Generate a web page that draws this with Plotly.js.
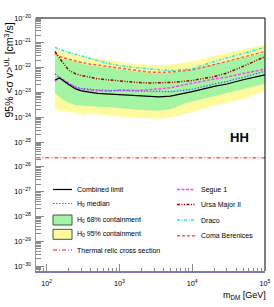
<!DOCTYPE html>
<html>
<head>
<meta charset="utf-8">
<script src="https://cdn.plot.ly/plotly-3.0.1.min.js"></script>
<style>html,body{margin:0;padding:0;background:#fff;}#chart{width:274px;height:307px;}</style>
</head>
<body>
<div id="chart"></div>
<script>
// ---- data ----
const masses = [130,150,200,250,300,400,500,750,1000,1750,2500,3500,5000,8000,10000,20000,30000,50000,100000];
const combinedLimit = [3.16e-23,3.80e-23,2.09e-23,1.38e-23,1.15e-23,9.77e-24,9.12e-24,8.51e-24,8.13e-24,7.08e-24,6.76e-24,6.61e-24,7.08e-24,9.33e-24,1.07e-23,1.74e-23,2.19e-23,3.24e-23,5.13e-23];
const h0Median = [5.62e-23,3.98e-23,2.24e-23,1.66e-23,1.45e-23,1.32e-23,1.26e-23,1.20e-23,1.17e-23,1.12e-23,1.07e-23,1.05e-23,1.07e-23,1.23e-23,1.35e-23,2.19e-23,2.75e-23,4.07e-23,7.08e-23];
const segue1 = [2.82e-23,3.98e-23,2.40e-23,1.58e-23,1.32e-23,1.20e-23,1.17e-23,1.12e-23,1.26e-23,1.20e-23,1.26e-23,1.38e-23,1.55e-23,2.09e-23,2.34e-23,3.47e-23,4.17e-23,5.75e-23,8.71e-23];
const ursaMajorII = [4.47e-22,2.40e-22,7.94e-23,5.62e-23,4.79e-23,3.98e-23,3.55e-23,3.16e-23,2.88e-23,2.51e-23,2.40e-23,2.40e-23,2.51e-23,2.82e-23,3.02e-23,4.37e-23,6.03e-23,1.12e-22,2.75e-22];
const draco = [6.61e-22,5.37e-22,4.17e-22,3.39e-22,2.88e-22,2.29e-22,1.91e-22,1.41e-22,1.20e-22,9.77e-23,8.91e-23,8.13e-23,7.59e-23,8.32e-23,9.12e-23,1.74e-22,2.40e-22,3.72e-22,6.61e-22];
const comaBerenices = [3.55e-22,2.82e-22,2.19e-22,1.82e-22,1.62e-22,1.38e-22,1.26e-22,1.12e-22,9.33e-23,7.41e-23,6.61e-23,6.46e-23,6.61e-23,7.59e-23,8.13e-23,1.32e-22,1.78e-22,2.63e-22,4.47e-22];
const band68Upper = [3.02e-22,2.51e-22,2.00e-22,1.66e-22,1.45e-22,1.23e-22,1.12e-22,9.33e-23,8.32e-23,6.61e-23,6.03e-23,5.89e-23,6.17e-23,7.59e-23,8.32e-23,1.41e-22,1.82e-22,2.63e-22,3.98e-22];
const band68Lower = [9.77e-24,6.31e-24,3.80e-24,3.02e-24,2.82e-24,2.69e-24,2.63e-24,2.45e-24,2.34e-24,2.00e-24,1.86e-24,1.82e-24,2.09e-24,3.55e-24,4.27e-24,7.24e-24,9.55e-24,1.38e-23,2.24e-23];
const band95Upper = [5.50e-22,4.79e-22,3.98e-22,3.31e-22,2.88e-22,2.51e-22,2.29e-22,1.91e-22,1.66e-22,1.38e-22,1.29e-22,1.26e-22,1.32e-22,1.62e-22,1.78e-22,3.02e-22,3.80e-22,5.37e-22,8.32e-22];
const band95LowerMasses = [130,150,200,250,300,330,360,400,500,750,1000,1750,2500,3500,5000,8000,10000,20000,30000,50000,100000];
const band95Lower = [2.00e-24,1.82e-24,1.66e-24,1.51e-24,1.38e-24,1.12e-24,1.41e-24,1.45e-24,1.32e-24,1.12e-24,1.05e-24,1.00e-24,9.12e-25,8.71e-25,1.00e-24,1.38e-24,1.58e-24,2.88e-24,3.80e-24,5.37e-24,1.15e-23];
const thermalMasses = [72, 100000];
const thermalRelic = [2.3e-26, 2.3e-26];
const xTickVals = [100, 1000, 10000, 100000];
const xTickText = ['10<sup>2</sup>', '10<sup>3</sup>', '10<sup>4</sup>', '10<sup>5</sup>'];

// ---- styles ----
const FONT = 'Liberation Sans, Arial, Helvetica, sans-serif';
const C = {
  comb: '#000000', med: '#5a5aff', seg: '#ff44ff', uma: '#a00000',
  dra: '#22e8f0', coma: '#ff5a5a', thermal: '#ff1010',
  g68: '#a3f5a3', y95: '#fdfb9e'
};
const DASH = {
  med: '1.5px,1.5px', seg: '3px,1.5px', uma: '3px,1.5px,1px,1.5px,1px,1.5px',
  dra: '3px,1.5px,1px,1.5px', coma: '3px,2px', thermal: '4px,2px,1px,2px'
};

function rev(a){ return a.slice().reverse(); }

const traces = [
  {x: masses.concat(rev(band95LowerMasses)), y: band95Upper.concat(rev(band95Lower)), type:'scatter', mode:'lines',
   fill:'toself', fillcolor:C.y95, line:{width:0, color:C.y95}, name:'H0 95% containment', showlegend:false, hoverinfo:'skip'},
  {x: masses.concat(rev(masses)), y: band68Upper.concat(rev(band68Lower)), type:'scatter', mode:'lines',
   fill:'toself', fillcolor:C.g68, line:{width:0, color:C.g68}, name:'H0 68% containment', showlegend:false, hoverinfo:'skip'},
  {x: thermalMasses, y: thermalRelic, mode:'lines', line:{color:C.thermal, width:1, dash:DASH.thermal}, name:'Thermal relic cross section', showlegend:false},
  {x: masses, y: draco, mode:'lines', line:{color:C.dra, width:1.5, dash:DASH.dra}, name:'Draco', showlegend:false},
  {x: masses, y: comaBerenices, mode:'lines', line:{color:C.coma, width:1.5, dash:DASH.coma}, name:'Coma Berenices', showlegend:false},
  {x: masses, y: ursaMajorII, mode:'lines', line:{color:C.uma, width:1.5, dash:DASH.uma}, name:'Ursa Major II', showlegend:false},
  {x: masses, y: segue1, mode:'lines', line:{color:C.seg, width:1.5, dash:DASH.seg}, name:'Segue 1', showlegend:false},
  {x: masses, y: h0Median, mode:'lines', line:{color:C.med, width:1.2, dash:DASH.med}, name:'H0 median', showlegend:false},
  {x: masses, y: combinedLimit, mode:'lines', line:{color:C.comb, width:1.2}, name:'Combined limit', showlegend:false}
];

// pixel -> paper helpers for the plot frame (l=36, t=18, w=229, h=253)
const L = 36, T = 18, W = 229, H = 253;
const px = x => (x - L) / W;
const py = y => (T + H - y) / H;

const shapes = [
  {type:'line', xref:'paper', yref:'paper', x0:0, x1:1, y0:1, y1:1, line:{color:'#000', width:1}},
  {type:'line', xref:'paper', yref:'paper', x0:1, x1:1, y0:0, y1:1, line:{color:'#000', width:1}}
];
const annotations = [];

// legend (drawn manually to match the ROOT layout)
const legendLeft = [
  {kind:'line', label:'Combined limit', color:C.comb, dash:'solid', w:1.2, y:189.5},
  {kind:'line', label:'H<sub>0</sub> median', color:C.med, dash:DASH.med, w:1.2, y:203.5},
  {kind:'box', label:'H<sub>0</sub> 68% containment', color:C.g68, y:220},
  {kind:'box', label:'H<sub>0</sub> 95% containment', color:C.y95, y:234.3},
  {kind:'line', label:'Thermal relic cross section', color:C.thermal, dash:DASH.thermal, w:1, y:250}
];
const legendRight = [
  {kind:'line', label:'Segue 1', color:C.seg, dash:DASH.seg, w:1.5, y:189.5},
  {kind:'line', label:'Ursa Major II', color:C.uma, dash:DASH.uma, w:1.5, y:204.5},
  {kind:'line', label:'Draco', color:C.dra, dash:DASH.dra, w:1.5, y:220},
  {kind:'line', label:'Coma Berenices', color:C.coma, dash:DASH.coma, w:1.5, y:235.7}
];
function addLegend(items, x0, x1, tx){
  items.forEach(it => {
    if(it.kind === 'line'){
      shapes.push({type:'line', xref:'paper', yref:'paper', x0:px(x0), x1:px(x1), y0:py(it.y), y1:py(it.y),
        line:{color:it.color, width:it.w, dash:it.dash}});
    } else {
      shapes.push({type:'rect', xref:'paper', yref:'paper', x0:px(x0), x1:px(x1), y0:py(it.y-5), y1:py(it.y+5),
        fillcolor:it.color, line:{color:'#3c5a3c', width:1}});
    }
    annotations.push({xref:'paper', yref:'paper', x:px(tx), y:py(it.y), xanchor:'left', yanchor:'middle',
      text:it.label, showarrow:false, font:{family:FONT, size:7, color:'#000'}});
  });
}
addLegend(legendLeft, 53, 72, 75);
addLegend(legendRight, 177, 195, 199);

// HH label
annotations.push({xref:'paper', yref:'paper', x:px(239), y:py(137), xanchor:'center', yanchor:'middle',
  text:'<b>HH</b>', showarrow:false, font:{family:FONT, size:13, color:'#000'}});
// y title
annotations.push({xref:'paper', yref:'paper', x:px(8), y:py(21), xanchor:'center', yanchor:'top', textangle:-90,
  text:'95% &lt;σ v&gt;<sup>UL</sup> [cm<sup>3</sup>/s]', showarrow:false, font:{family:FONT, size:10.5, color:'#000'}});
// x title
annotations.push({xref:'paper', yref:'paper', x:px(268), y:py(295), xanchor:'right', yanchor:'middle',
  text:'m<sub>DM</sub> [GeV]', showarrow:false, font:{family:FONT, size:9, color:'#000'}});

const layout = {
  width:274, height:307,
  margin:{l:L, r:274-L-W, t:T, b:307-T-H, pad:0},
  paper_bgcolor:'#fff', plot_bgcolor:'#fff',
  showlegend:false,
  font:{family:FONT, size:7, color:'#000'},
  xaxis:{type:'log', range:[1.853, 5], tickmode:'array', tickvals:xTickVals, ticktext:xTickText,
    ticks:'inside', ticklen:7, tickwidth:1, tickcolor:'#8a8a8a',
    showline:true, linecolor:'#7a7ab4', linewidth:1.5, showgrid:false, zeroline:false,
    ticklabelstandoff:5, tickfont:{family:FONT, size:7.2, color:'#000'},
    minor:{ticks:'inside', ticklen:3.5, tickcolor:'#8a8a8a', dtick:'D1', showgrid:false}},
  yaxis:{type:'log', range:[-30.2, -20], dtick:1, exponentformat:'power',
    ticks:'inside', ticklen:8, tickwidth:1, tickcolor:'#8a8a8a',
    showline:true, linecolor:'#9a9a9a', linewidth:1, showgrid:false, zeroline:false,
    ticklabelstandoff:3, tickfont:{family:FONT, size:5.8, color:'#000'},
    minor:{ticks:'inside', ticklen:5, tickcolor:'#8a8a8a', dtick:'D1', showgrid:false}},
  shapes:shapes, annotations:annotations
};

Plotly.newPlot('chart', traces, layout, {displayModeBar:false, staticPlot:true});
</script>
</body>
</html>
